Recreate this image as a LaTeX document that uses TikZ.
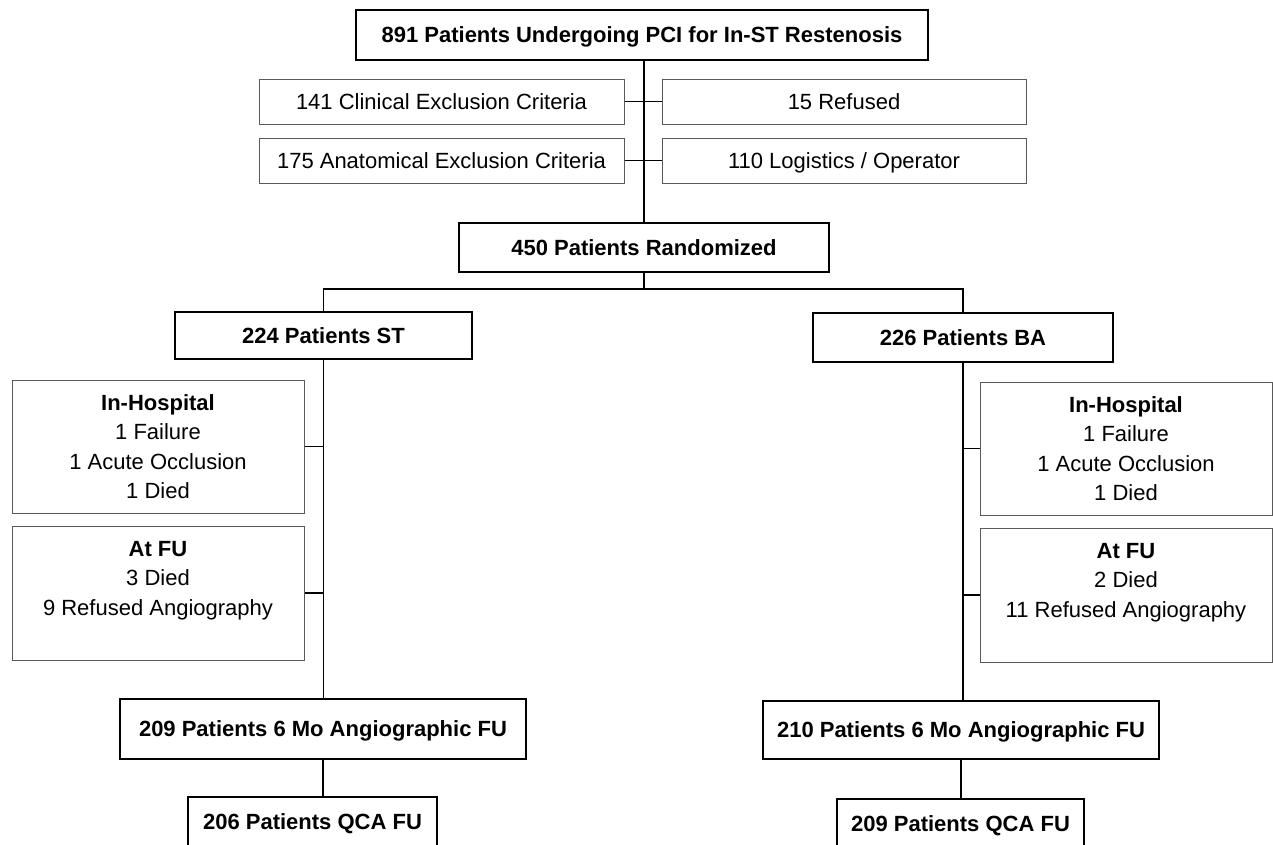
\documentclass[tikz,border=0pt]{standalone}
\usepackage{fontspec}
\setmainfont{Liberation Sans}
\begin{document}
\begin{tikzpicture}[x=1pt,y=-1pt,
  thickbox/.style={draw=black, line width=2.8pt, inner sep=0pt, font=\fontsize{22}{29.5}\selectfont\bfseries, text height=16pt, text depth=0.25pt},
  thinbox/.style={draw=black!65, line width=1pt, inner sep=0pt, font=\fontsize{22}{29.5}\selectfont, text height=16pt, text depth=0.25pt},
  listbox/.style={draw=black!65, line width=1pt, inner sep=0pt, font=\fontsize{22}{29.5}\selectfont, align=center},
  link/.style={draw=black, line width=1.2pt}]
\useasboundingbox (0,0) rectangle (1273,844);
\fill[white] (0,0) rectangle (1273,844);
\clip (0,0) rectangle (1273,844);

\node[thickbox, minimum width=572pt, minimum height=50pt] (top) at (642,35) {891 Patients Undergoing PCI for In-ST Restenosis};

\node[thinbox, minimum width=365pt, minimum height=45pt] (clin) at (441.5,101.5) {141 Clinical Exclusion Criteria};
\node[thinbox, minimum width=365pt, minimum height=45pt] (anat) at (441.5,160.5) {175 Anatomical Exclusion Criteria};
\node[thinbox, minimum width=364pt, minimum height=45pt] (refu) at (844,101.5) {15 Refused};
\node[thinbox, minimum width=364pt, minimum height=45pt] (logi) at (844,160.5) {110 Logistics / Operator};

\node[thickbox, minimum width=370pt, minimum height=49pt] (rand) at (644,247.5) {450 Patients Randomized};
\coordinate (split) at (644,289);

\node[thickbox, minimum width=297pt, minimum height=47pt] (st) at (323.5,335.5) {224 Patients ST};
\node[thickbox, minimum width=300pt, minimum height=49pt] (ba) at (963,337.5) {226 Patients BA};

\node[listbox, minimum width=292pt, minimum height=133pt] (inhL) at (158,446.5) {\textbf{In-Hospital}\\1 Failure\\1 Acute Occlusion\\1 Died};
\node[listbox, minimum width=292pt, minimum height=134pt] (fuL) at (158,593) {\textbf{At FU}\\3 Died\\9 Refused Angiography\\\mbox{}};
\node[listbox, minimum width=292pt, minimum height=133pt] (inhR) at (1126,448.5) {\textbf{In-Hospital}\\1 Failure\\1 Acute Occlusion\\1 Died};
\node[listbox, minimum width=292pt, minimum height=134pt] (fuR) at (1126,595) {\textbf{At FU}\\2 Died\\11 Refused Angiography\\\mbox{}};

\node[thickbox, minimum width=406pt, minimum height=60pt] (a209) at (323,729) {209 Patients 6 Mo Angiographic FU};
\node[thickbox, minimum width=396pt, minimum height=58pt] (a210) at (961,730) {210 Patients 6 Mo Angiographic FU};
\node[thickbox, minimum width=249pt, minimum height=50pt] (q206) at (312.5,822) {206 Patients QCA FU};
\node[thickbox, minimum width=247pt, minimum height=50pt] (q209) at (960.5,824) {209 Patients QCA FU};

\draw[link] (rand.north |- top.south) -- (rand.north);
\draw[link] (clin.east) -- (refu.west);
\draw[link] (anat.east) -- (logi.west);
\draw[link] (rand.south) -- (split);
\draw[link] (st.north) |- (split) -| (ba.north);
\draw[link] (st.south) -- (st.south |- a209.north);
\draw[link] (inhL.east) -- (inhL.east -| st.south);
\draw[link] (fuL.east) -- (fuL.east -| st.south);
\draw[link] (ba.south) -- (ba.south |- a210.north);
\draw[link] (inhR.west) -- (inhR.west -| ba.south);
\draw[link] (fuR.west) -- (fuR.west -| ba.south);
\draw[link] (a209.south) -- (a209.south |- q206.north);
\draw[link] (a210.south) -- (a210.south |- q209.north);
\end{tikzpicture}
\end{document}
